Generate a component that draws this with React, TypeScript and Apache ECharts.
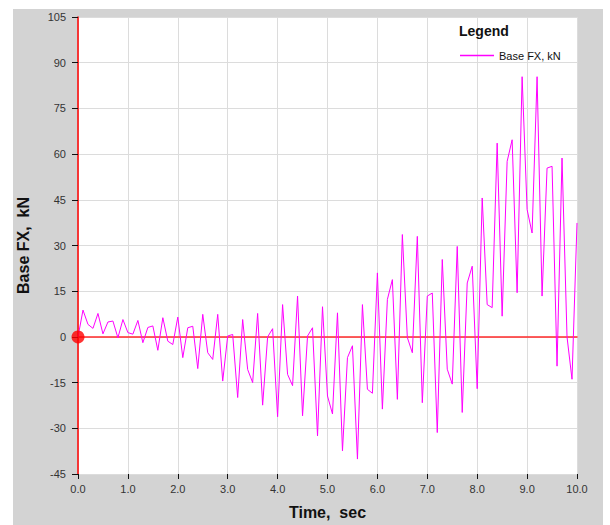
import React, { useEffect, useRef } from "react";
import * as echarts from "echarts";

const times: number[] = [
  0.0, 0.1, 0.2, 0.3, 0.4, 0.5, 0.6, 0.7, 0.8, 0.9,
  1.0, 1.1, 1.2, 1.3, 1.4, 1.5, 1.6, 1.7, 1.8, 1.9,
  2.0, 2.1, 2.2, 2.3, 2.4, 2.5, 2.6, 2.7, 2.8, 2.9,
  3.0, 3.1, 3.2, 3.3, 3.4, 3.5, 3.6, 3.7, 3.8, 3.9,
  4.0, 4.1, 4.2, 4.3, 4.4, 4.5, 4.6, 4.7, 4.8, 4.9,
  5.0, 5.1, 5.2, 5.3, 5.4, 5.5, 5.6, 5.7, 5.8, 5.9,
  6.0, 6.1, 6.2, 6.3, 6.4, 6.5, 6.6, 6.7, 6.8, 6.9,
  7.0, 7.1, 7.2, 7.3, 7.4, 7.5, 7.6, 7.7, 7.8, 7.9,
  8.0, 8.1, 8.2, 8.3, 8.4, 8.5, 8.6, 8.7, 8.8, 8.9,
  9.0, 9.1, 9.2, 9.3, 9.4, 9.5, 9.6, 9.7, 9.8, 9.9,
  10.0,
];

const baseFX: number[] = [
  0, 8.8, 4.1, 2.8, 7.7, 1.0, 4.9, 5.2, -0.3, 5.7,
  1.4, 0.9, 5.4, -1.9, 3.1, 3.6, -4.4, 6.3, -1.4, -2.5,
  6.5, -6.8, 3.0, 3.5, -10.4, 7.4, -5.2, -7.4, 7.4, -14.5,
  0.3, 0.8, -19.9, 5.7, -10.7, -15.0, 7.7, -22.4, 0.0, 2.7,
  -26.2, 10.6, -12.3, -16.0, 13.4, -25.9, 0.3, 3.0, -32.5, 9.9,
  -19.4, -25.3, 7.9, -37.4, -6.8, -2.9, -40.1, 10.6, -17.2, -18.5,
  21.0, -23.7, 12.3, 18.8, -20.5, 33.6, -0.2, -5.2, 33.0, -21.6,
  13.4, 14.4, -31.4, 25.4, -10.6, -15.5, 29.7, -24.8, 17.7, 23.2,
  -17.0, 45.6, 10.6, 9.6, 63.6, 6.8, 57.6, 64.7, 14.5, 85.4,
  41.8, 34.1, 85.4, 13.4, 55.4, 56.0, -9.6, 58.7, 0.0, -13.9,
  37.4,
];

const seriesName = "Base FX, kN";
const legendTitle = "Legend";
const xTitle = "Time,  sec";
const yTitle = "Base FX,  kN";
const originPoint: number[] = [0, 0];

const FONT = "'Liberation Sans', Arial, sans-serif";
const MAGENTA = "#ff00ff";

export default function App() {
  const ref = useRef<HTMLDivElement>(null);

  useEffect(() => {
    if (!ref.current) return;
    const chart = echarts.init(ref.current, undefined, { renderer: "svg" });
    const data = times.map((t, i) => [t, baseFX[i]]);
    chart.setOption({
      animation: false,
      textStyle: { fontFamily: FONT },
      graphic: [
        {
          type: "rect",
          z: -10,
          silent: true,
          shape: { x: 13, y: 9, width: 590, height: 516 },
          style: { fill: "#d3d3d3" },
        },
      ],
      title: {
        text: legendTitle,
        left: 454,
        top: 19,
        textStyle: { fontSize: 14, fontWeight: "bold", color: "#111", fontFamily: FONT },
      },
      legend: {
        data: [
          {
            name: seriesName,
            icon: "path://M0,0 L34,0 L34,1.5 L0,1.5 Z",
            itemStyle: { color: MAGENTA, borderWidth: 0 },
          },
        ],
        left: 455,
        top: 45,
        itemWidth: 34,
        itemHeight: 1.5,
        itemGap: 6,
        textStyle: { fontSize: 11, color: "#111", fontFamily: FONT },
      },
      grid: {
        left: 78,
        top: 17,
        right: 33,
        bottom: 50,
        show: true,
        backgroundColor: "#ffffff",
        borderWidth: 0,
      },
      xAxis: [
        {
          type: "value",
          min: 0,
          max: 10,
          interval: 1,
          name: xTitle,
          nameLocation: "middle",
          nameGap: 30,
          nameTextStyle: { fontSize: 16, fontWeight: "bold", color: "#111", fontFamily: FONT },
          axisLine: { show: false, onZero: false },
          axisTick: { show: true, length: 5, lineStyle: { color: "#111" } },
          axisLabel: {
            fontSize: 11,
            color: "#333",
            margin: 9,
            formatter: (v: number) => v.toFixed(1),
          },
          splitLine: { show: true, lineStyle: { color: "#dcdcdc", width: 1 } },
        },
        {
          type: "value",
          min: 0,
          max: 10,
          interval: 1,
          position: "bottom",
          axisLine: { show: true, onZero: true, lineStyle: { color: "#ff2a2a", width: 1.5 } },
          axisTick: { show: false },
          axisLabel: { show: false },
          splitLine: { show: false },
        },
      ],
      yAxis: {
        type: "value",
        min: -45,
        max: 105,
        interval: 15,
        name: yTitle,
        nameLocation: "middle",
        nameGap: 47,
        nameTextStyle: { fontSize: 16, fontWeight: "bold", color: "#111", fontFamily: FONT },
        axisLine: { show: true, onZero: false, lineStyle: { color: "#ff0000", width: 1.5 } },
        axisTick: { show: true, length: 6, lineStyle: { color: "#111" } },
        axisLabel: { fontSize: 11, color: "#333", margin: 12 },
        splitLine: { show: true, lineStyle: { color: "#dcdcdc", width: 1 } },
      },
      series: [
        {
          name: seriesName,
          type: "line",
          xAxisIndex: 0,
          data,
          symbol: "none",
          lineStyle: { color: MAGENTA, width: 1 },
          itemStyle: { color: MAGENTA },
          z: 3,
        },
        {
          name: "origin",
          type: "scatter",
          xAxisIndex: 0,
          data: [originPoint],
          symbol: "circle",
          symbolSize: 13,
          itemStyle: { color: "#ff0000" },
          z: 5,
        },
      ],
    });
    return () => chart.dispose();
  }, []);

  return (
    <div
      ref={ref}
      style={{ position: "absolute", left: 0, top: 0, width: 610, height: 525 }}
    />
  );
}
